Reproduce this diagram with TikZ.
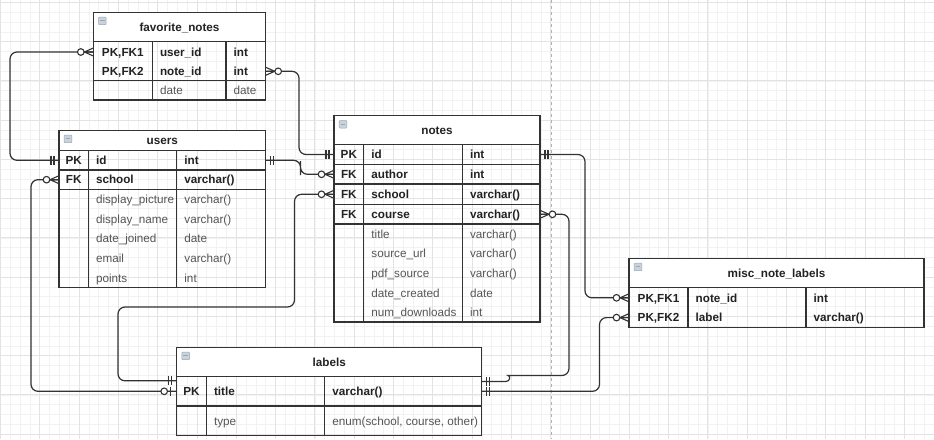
\documentclass[tikz,border=0pt]{standalone}
\usepackage{fontspec}
\setmainfont{Liberation Sans}
\definecolor{inkline}{HTML}{333333}
\definecolor{keyink}{HTML}{222222}
\definecolor{plainink}{HTML}{555555}
\definecolor{iconfill}{HTML}{C9D3DE}
\definecolor{iconline}{HTML}{9AA6B2}

% table header with its title and collapse icon
% #1 name, #2 left, #3 right, #4 top, #5 bottom, #6 title
\newcommand{\erhead}[6]{%
  \node[headbox, minimum width={(#3-#2)*1pt}, minimum height={(#5-#4)*1pt}, anchor=north west] (#1-head) at (#2,#4) {};
  \node[keytext] (#1-title) at ({(#2+#3)/2},{(#4+#5)/2}) {#6};
  \node[iconbox] (#1-icon) at ({#2+9},{#4+8.6}) {};
  \draw[iconline, line width=1.1pt] ([xshift=-2.3pt]#1-icon.center) -- ([xshift=2.3pt]#1-icon.center);
}
% one attribute row: #1 text style, #2 name, #3 centre y, #4 key, #5 field, #6 type
% uses \tl, \tr (table edges), \ca, \cb (column rules)
\newcommand{\errow}[6]{%
  \node[rowcell, minimum width={(\tr-\tl)*1pt}, minimum height=19.6pt] (#2) at ({(\tl+\tr)/2},#3) {};
  \node[#1] (#2-key) at ({(\tl+\ca)/2},#3) {#4};
  \node[#1, anchor=west] (#2-field) at ({\ca+7.5},#3) {#5};
  \node[#1, anchor=west] (#2-type) at ({\cb+7.5},#3) {#6};
}
% outer frame of a table body and its two column rules: #1 name, #2 top, #3 bottom
\newcommand{\erbody}[3]{%
  \node[bodybox, minimum width={(\tr-\tl)*1pt}, minimum height={(#3-#2)*1pt}, anchor=north west] (#1-body) at (\tl,#2) {};
  \draw[tableline] (\ca,#2) -- (\ca,#3) (\cb,#2) -- (\cb,#3);
}

\begin{document}
\begin{tikzpicture}[x=1pt, y=-1pt,
  every node/.style={font=\fontsize{11.7}{14}\selectfont},
  gridminor/.style={draw=black!5, line width=0.7pt},
  gridmajor/.style={draw=black!11, line width=1pt},
  pagebreak/.style={draw=black!30, line width=0.8pt, dash pattern=on 3pt off 3pt},
  tableline/.style={draw=inkline, line width=1.2pt},
  headbox/.style={tableline, fill=white, inner sep=0pt, outer sep=0pt},
  bodybox/.style={tableline, inner sep=0pt, outer sep=0pt},
  rowcell/.style={inner sep=0pt, outer sep=0pt},
  iconbox/.style={draw=iconline, fill=iconfill, line width=0.5pt, minimum size=7.6pt, inner sep=0pt, rounded corners=0.8pt},
  keytext/.style={font=\fontsize{11.7}{14}\selectfont\bfseries, text=keyink, inner sep=0pt, text height=8.4pt, text depth=0pt},
  plaintext/.style={text=plainink, inner sep=0pt, text height=8.4pt, text depth=0pt},
  conn/.style={draw=inkline, line width=1.2pt, rounded corners=7pt},
  marker/.style={draw=inkline, line width=1.1pt},
  zmany/.pic={\draw[marker] (-9,0) -- (0,-4) (-9,0) -- (0,4) (-9,0) -- (0,0);
               \draw[marker, fill=white] (-12.5,0) circle (3.3pt);},
  mone/.pic={\draw[marker] (-8,-4.5) -- (-8,4.5) (-5,-4.5) -- (-5,4.5);},
  zone/.pic={\draw[marker] (-6,-4.5) -- (-6,4.5);
             \draw[marker, fill=white] (-12.5,0) circle (3.3pt);}
]
\useasboundingbox (0,0) rectangle (934,439);
\fill[white] (0,0) rectangle (934,439);

% background grid
\foreach \i in {0,...,95} \draw[gridminor] ({0.5+\i*9.825},0) -- ({0.5+\i*9.825},439);
\foreach \j in {0,...,44} \draw[gridminor] (0,{2.45+\j*9.8125}) -- (934,{2.45+\j*9.8125});
\foreach \i in {0,...,23} \draw[gridmajor] ({0.5+\i*39.3},0) -- ({0.5+\i*39.3},439);
\foreach \j in {0,...,11} \draw[gridmajor] (0,{2.45+\j*39.25}) -- (934,{2.45+\j*39.25});
\draw[pagebreak] (551,0) -- (551,439);

% favorite_notes
\def\tl{93.3}\def\tr{265.7}\def\ca{152.3}\def\cb{226}
\erbody{fav}{41.7}{100}
\erhead{fav}{93.3}{265.7}{12.3}{41.7}{favorite\_notes}
\errow{keytext}{fav-uid}{52}{PK,FK1}{user\_id}{int}
\errow{keytext}{fav-nid}{71.3}{PK,FK2}{note\_id}{int}
\errow{plaintext}{fav-date}{90.5}{}{date}{date}
\draw[tableline] (\tl,80.3) -- (\tr,80.3);

% users
\def\tl{59}\def\tr{265.7}\def\ca{88.3}\def\cb{176.7}
\erbody{users}{150.7}{287.3}
\erhead{users}{59}{265.7}{130.3}{150.7}{users}
\errow{keytext}{users-id}{160.3}{PK}{id}{int}
\errow{keytext}{users-school}{179.7}{FK}{school}{varchar()}
\errow{plaintext}{users-pic}{199.4}{}{display\_picture}{varchar()}
\errow{plaintext}{users-name}{219}{}{display\_name}{varchar()}
\errow{plaintext}{users-joined}{238.6}{}{date\_joined}{date}
\errow{plaintext}{users-email}{258.2}{}{email}{varchar()}
\errow{plaintext}{users-points}{277.8}{}{points}{int}
\draw[tableline] (\tl,170) -- (\tr,170) (\tl,189.3) -- (\tr,189.3);

% notes
\def\tl{334}\def\tr{540}\def\ca{363.7}\def\cb{462.3}
\erbody{notes}{144.3}{322}
\erhead{notes}{334}{540}{115.7}{144.3}{notes}
\errow{keytext}{notes-id}{154.5}{PK}{id}{int}
\errow{keytext}{notes-author}{174.3}{FK}{author}{int}
\errow{keytext}{notes-school}{194.3}{FK}{school}{varchar()}
\errow{keytext}{notes-course}{214.3}{FK}{course}{varchar()}
\errow{plaintext}{notes-title}{234}{}{title}{varchar()}
\errow{plaintext}{notes-url}{253.6}{}{source\_url}{varchar()}
\errow{plaintext}{notes-pdf}{273.2}{}{pdf\_source}{varchar()}
\errow{plaintext}{notes-created}{292.8}{}{date\_created}{date}
\errow{plaintext}{notes-downloads}{312.4}{}{num\_downloads}{int}
\draw[tableline] (\tl,164.3) -- (\tr,164.3) (\tl,184) -- (\tr,184)
                 (\tl,204.3) -- (\tr,204.3) (\tl,224) -- (\tr,224);

% misc_note_labels
\def\tl{629}\def\tr{924}\def\ca{688}\def\cb{806}
\erbody{misc}{287.7}{327.3}
\erhead{misc}{629}{924}{258.3}{287.7}{misc\_note\_labels}
\errow{keytext}{misc-nid}{297.8}{PK,FK1}{note\_id}{int}
\errow{keytext}{misc-label}{317.6}{PK,FK2}{label}{varchar()}

% labels
\def\tl{176.7}\def\tr{481.7}\def\ca{206.3}\def\cb{324.7}
\erbody{labels}{376.7}{435.7}
\erhead{labels}{176.7}{481.7}{347.3}{376.7}{labels}
\errow{keytext}{labels-title}{391.3}{PK}{title}{varchar()}
\errow{plaintext}{labels-type}{420.8}{}{type}{enum(school, course, other)}
\draw[tableline] (\tl,406) -- (\tr,406);

% relationships
\draw[conn] (fav-uid.west) -| (10,100) |- (users-id.west);
\pic at (fav-uid.west) {zmany};
\pic at (users-id.west) {mone};

\draw[conn] (fav-nid.east) -| (299,100) |- (notes-id.west);
\pic[rotate=180] at (fav-nid.east) {zmany};
\pic at (notes-id.west) {mone};

\draw[conn] (users-id.east) -| (300.5,168) |- (notes-author.west);
\pic[rotate=180] at (users-id.east) {mone};
\pic at (notes-author.west) {zmany};

\draw[conn] (users-school.west) -| (31,300) |- (labels-title.west);
\pic at (users-school.west) {zmany};
\pic at (labels-title.west) {zone};

\draw[conn] (notes-school.west) -| (294.5,307) -| (118,350) |- ([yshift=10.5pt]labels-title.west);
\pic at (notes-school.west) {zmany};
\pic at ([yshift=10.5pt]labels-title.west) {mone};

\draw[conn] (notes-course.east) -| (569,300) |- (515,375.5)
  [sharp corners] to[out=180, in=0] (506,381.5) -- ([yshift=9.8pt]labels-title.east);
\pic[rotate=180] at (notes-course.east) {zmany};
\pic[rotate=180] at ([yshift=9.8pt]labels-title.east) {mone};

\draw[conn] (notes-id.east) -| (585,230) |- (misc-nid.west);
\pic[rotate=180] at (notes-id.east) {mone};
\pic at (misc-nid.west) {zmany};

\draw[conn] (labels-title.east) -| (599.5,350) |- (misc-label.west);
\pic[rotate=180] at (labels-title.east) {mone};
\pic at (misc-label.west) {zmany};
\end{tikzpicture}
\end{document}
